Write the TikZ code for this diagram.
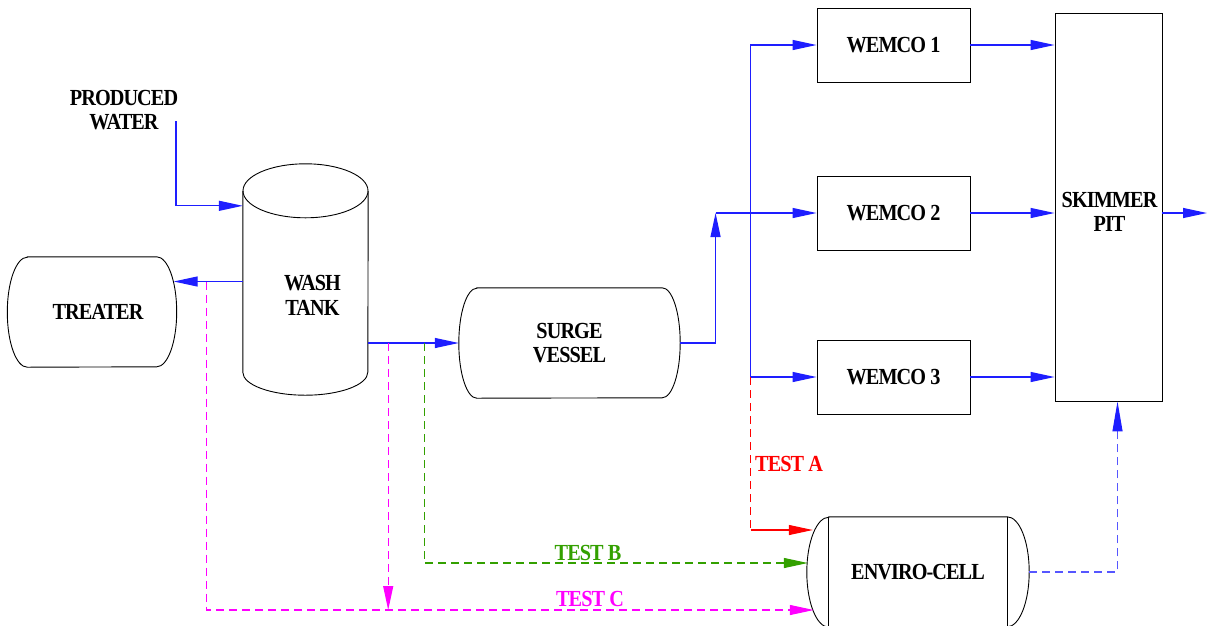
\documentclass[tikz,border=0pt]{standalone}
\usepackage{fontspec}
\setmainfont{Liberation Serif}[FakeStretch=0.88,LetterSpace=-4]
\usetikzlibrary{arrows.meta,calc}
\definecolor{tgreen}{RGB}{51,160,0}
\definecolor{fblue}{RGB}{30,30,255}
\definecolor{tmag}{RGB}{255,0,255}
\newcommand\drawcapsule[3]{%
  \draw[outline] ($(#1.north west)+(#2,0)$) -- ($(#1.north east)+(-#2,0)$)
    arc[start angle=90,end angle=-90,x radius=#2pt,y radius=#3pt]
    -- ($(#1.south west)+(#2,0)$)
    arc[start angle=270,end angle=90,x radius=#2pt,y radius=#3pt] -- cycle;}
\begin{document}
\begin{tikzpicture}[x=1pt,y=-1pt,
  lbl/.style={font=\fontsize{23}{24.5}\selectfont\bfseries, align=center, inner sep=0pt},
  box/.style={lbl, draw=none, inner sep=0pt},
  wbox/.style={lbl, draw=black, line width=0.9pt, minimum width=153pt, minimum height=74pt},
  outline/.style={draw=black, line width=0.9pt},
  tip/.style={-{Triangle[length=24pt,width=10pt]}},
  flow/.style={fblue, line width=1.2pt, tip},
  dsh/.style={line width=1.1pt, dash pattern=on 8pt off 5pt},
  testA/.style={red, dsh},
  testB/.style={tgreen, dsh, tip},
  testC/.style={tmag, dsh, tip},
  flowd/.style={fblue!75, dsh, -{Triangle[length=30pt,width=10pt,color=fblue]}}]
\useasboundingbox (0,0) rectangle (1207,625);
\begin{scope}
\clip (0,0) rectangle (1207,625);
% nodes
\node[lbl] (PW) at (124,110) {PRODUCED\\WATER};
\node[box, minimum width=169pt, minimum height=110pt,
  label={[lbl,xshift=6pt]center:TREATER}] (T) at (92,312) {};
\node[box, minimum width=125pt, minimum height=181pt,
  label={[lbl,xshift=7pt,yshift=-14pt]center:WASH\\TANK}] (W) at (305.5,281.5) {};
\node[box, minimum width=221pt, minimum height=110pt] (S) at (569.5,343) {SURGE\\VESSEL};
\node[wbox] (W1) at (893.5,45) {WEMCO 1};
\node[wbox] (W2) at (893.5,213) {WEMCO 2};
\node[wbox] (W3) at (893.5,377) {WEMCO 3};
\node[wbox, minimum width=107pt, minimum height=388pt,
  label={[lbl,xshift=1pt,yshift=-5pt]center:SKIMMER\\PIT}] (K) at (1108.5,207) {};
\node[box, minimum width=222pt, minimum height=110pt] (E) at (918,572) {ENVIRO-CELL};
% outlines
\drawcapsule{T}{20}{55}
\drawcapsule{S}{18}{55}
\drawcapsule{E}{22}{55}
\draw[outline] ($(E.north west)+(22,0)$) -- ($(E.south west)+(22,0)$);
\draw[outline] ($(E.north east)+(-22,0)$) -- ($(E.south east)+(-22,0)$);
\draw[outline] (W.north west) -- (W.south west)
  arc[start angle=180,end angle=360,x radius=62.5pt,y radius=23pt] -- (W.north east);
\draw[outline] (W.north) ellipse [x radius=62.5pt, y radius=27pt];
% coordinates
\coordinate (pwout) at (176,121);
\coordinate (j2) at ($(W2.west)+(-101,0)$);
\coordinate (bus) at ($(W3.west)+(-66,0)$);
\coordinate (out) at (1207,213);
\coordinate (ws) at (S.west -| W.east);
\coordinate (mC) at ($(W.west)+(-36,0)$);
\coordinate (mD) at ($(ws)+(20,0)$);
\coordinate (gB) at ($(ws)+(56,0)$);
\coordinate (ea) at ($(E.west)+(6,-42)$);
\coordinate (eb) at ($(E.west)+(1,-9)$);
\coordinate (ec) at ($(E.west)+(7,38)$);
\coordinate (ra) at (bus |- ea);
% connectors
\draw[flow] (pwout) |- ($(W.north west)+(0,15)$);
\draw[flow] (W.west) -- ($(T.east |- W.west)+(-3,0)$);
\draw[flow] (ws) -- (S.west);
\draw[flow] (S.east) -| (j2);
\draw[flow] (j2) -- (W2.west);
\draw[flow] (bus) |- (W1.west);
\draw[flow] (bus) -- (W3.west);
\foreach \i in {1,2,3} \draw[flow] (W\i.east) -- (K.west |- W\i.east);
\draw[flow] (K.east |- W2.east) -- (out);
\draw[testA] (bus) -- (ra);
\draw[red, line width=1.1pt, tip] (ra) -- (ea);
\draw[testB] (gB) |- (eb);
\draw[testC] (mC) |- (ec);
\draw[testC] (mD) -- (mD |- ec);
\draw[flowd] (E.east) -| ($(K.south)+(9,0)$);
% labels
\node[lbl, red, anchor=west] (LA) at (755,464) {TEST A};
\node[lbl, tgreen] (LB) at (588,553) {TEST B};
\node[lbl, tmag] (LC) at (590,599) {TEST C};
\end{scope}
\end{tikzpicture}
\end{document}
